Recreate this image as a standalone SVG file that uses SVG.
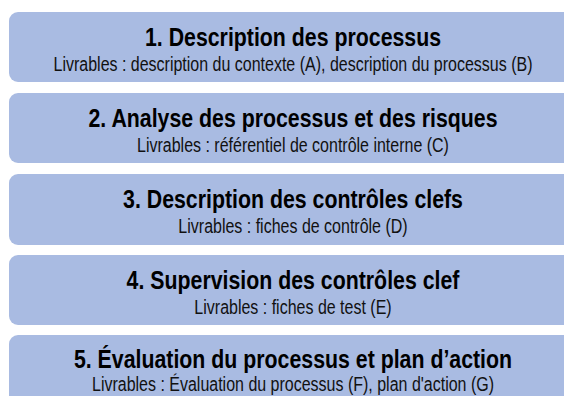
<svg xmlns="http://www.w3.org/2000/svg" width="564" height="396" viewBox="0 0 564 396">
<style>
.box{fill:#a9bbe2;}
.t{font-family:"Liberation Sans",Arial,sans-serif;font-weight:bold;font-size:26px;fill:#000;text-anchor:middle;}
.s{font-family:"Liberation Sans",Arial,sans-serif;font-size:19.5px;fill:#111;text-anchor:middle;}
</style>
<rect width="564" height="396" fill="#ffffff"/>
<g id="step1">
<rect class="box" x="9" y="12" width="600" height="70" rx="9"/>
<text class="t" transform="translate(293,46) scale(0.82,1)">1. Description des processus</text>
<text class="s" transform="translate(293,71) scale(0.82,1)">Livrables : description du contexte (A), description du processus (B)</text>
</g>
<g id="step2">
<rect class="box" x="9" y="93" width="600" height="70" rx="9"/>
<text class="t" transform="translate(293,127) scale(0.82,1)">2. Analyse des processus et des risques</text>
<text class="s" transform="translate(293,152) scale(0.82,1)">Livrables : référentiel de contrôle interne (C)</text>
</g>
<g id="step3">
<rect class="box" x="9" y="174" width="600" height="71" rx="9"/>
<text class="t" transform="translate(293,208) scale(0.82,1)">3. Description des contrôles clefs</text>
<text class="s" transform="translate(293,233) scale(0.82,1)">Livrables : fiches de contrôle (D)</text>
</g>
<g id="step4">
<rect class="box" x="9" y="255" width="600" height="70" rx="9"/>
<text class="t" transform="translate(293,289) scale(0.82,1)">4. Supervision des contrôles clef</text>
<text class="s" transform="translate(293,314) scale(0.82,1)">Livrables : fiches de test (E)</text>
</g>
<g id="step5">
<rect class="box" x="9" y="335" width="600" height="80" rx="9"/>
<text class="t" transform="translate(293,368) scale(0.82,1)">5. Évaluation du processus et plan d’action</text>
<text class="s" transform="translate(293,391) scale(0.82,1)">Livrables : Évaluation du processus (F), plan d'action (G)</text>
</g>
<g id="connectors"/>
</svg>
